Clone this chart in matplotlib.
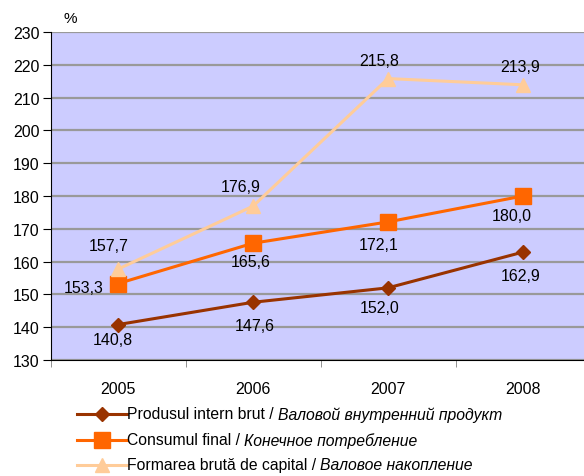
import matplotlib
matplotlib.use("Agg")
import matplotlib.pyplot as plt
from matplotlib.ticker import FixedLocator
from matplotlib.lines import Line2D

plt.rcParams['font.family'] = ['Liberation Sans', 'DejaVu Sans']

years = ["2005", "2006", "2007", "2008"]
pib = [140.8, 147.6, 152.0, 162.9]
consum = [153.3, 165.6, 172.1, 180.0]
formare = [157.7, 176.9, 215.8, 213.9]

labels_ro = ["Produsul intern brut", "Consumul final", "Formarea brută de capital"]
labels_ru = ["Валовой внутренний продукт", "Конечное потребление", "Валовое накопление"]

colors = ['#993300', '#FF6600', '#FFCC99']
markers = ['D', 's', '^']
msizes = [7, 11, 10]

W, H = 584, 477
fig = plt.figure(figsize=(W / 100, H / 100), dpi=100)
ax = fig.add_axes([50.5 / W, 1 - 361 / H, 540 / W, 328 / H])
ax.set_facecolor('#CCCCFF')

x = list(range(len(years)))
series = [pib, consum, formare]
lines = []
for s, c, m, ms in zip(series, colors, markers, msizes):
    l, = ax.plot(x, s, color=c, marker=m, markersize=ms, lw=2.2, zorder=3)
    lines.append(l)

ax.set_xlim(-0.5, 3.5)
ax.set_ylim(130, 230)
ax.set_yticks(range(130, 231, 10))
ax.set_xticks(x)
ax.set_xticklabels(years)
ax.xaxis.set_minor_locator(FixedLocator([-0.5, 0.5, 1.5, 2.5, 3.5]))
ax.tick_params(axis='x', which='major', length=0, pad=15, labelsize=11.5)
ax.tick_params(axis='x', which='minor', length=5, color='#808080', direction='out')
ax.tick_params(axis='y', length=6, labelsize=11.5, direction='out', pad=2)
ax.yaxis.grid(True, color='#999999', lw=1.6)
ax.set_axisbelow(True)
for sp in ['top', 'right']:
    ax.spines[sp].set_visible(False)
ax.spines['left'].set_color('black')
ax.spines['bottom'].set_color('black')

fs = 11.5
def fmt(v):
    return f"{v:.1f}".replace('.', ',')

offsets = [
    [(-4, -11), (1, -16.5), (-6, -14), (-2, -16.5)],
    [(-25, -3), (-2, -13), (-6.5, -16.5), (-8, -14)],
    [(-7, 17), (-9, 14), (-6, 13), (-2, 13)],
]
for s, offs in zip(series, offsets):
    for i in x:
        ax.annotate(fmt(s[i]), (i, s[i]), xytext=offs[i], textcoords='offset points',
                    ha='center', va='center', fontsize=fs, zorder=5)

fig.text(70 / W, 1 - 19 / H, "%", fontsize=11, ha='center', va='center')

# legend drawn manually
fig.canvas.draw()
renderer = fig.canvas.get_renderer()
inv = fig.transFigure.inverted()
rows_y = [415, 441, 466]
for yy, c, m, ms, ro, ru in zip(rows_y, colors, markers, msizes, labels_ro, labels_ru):
    yf = 1 - yy / H
    fig.add_artist(Line2D([77 / W, 127 / W], [yf, yf], color=c, lw=2.2,
                          transform=fig.transFigure))
    fig.add_artist(Line2D([102 / W], [yf], color=c, marker=m, markersize=ms, lw=0,
                          transform=fig.transFigure))
    t1 = fig.text(127 / W, yf, ro + " / ", fontsize=11.3, ha='left', va='center')
    bb1 = t1.get_window_extent(renderer)
    x1 = inv.transform((bb1.x1, 0))[0]
    fig.text(x1, yf, ru, fontsize=11.3, ha='left', va='center', style='italic')

fig.savefig("out.png", dpi=100)
